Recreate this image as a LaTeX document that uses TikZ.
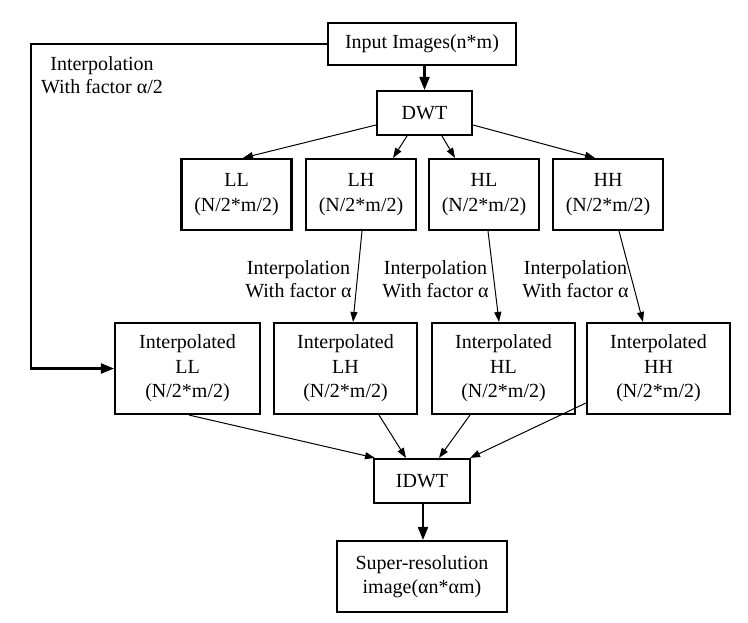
\documentclass[tikz,border=0pt]{standalone}
\usepackage{fontspec}
\setmainfont{Liberation Serif}
\usetikzlibrary{arrows.meta}
\begin{document}
\begin{tikzpicture}[x=1pt,y=-1pt,
  box/.style={draw, line width=2.1pt, inner sep=0pt, align=center,
    font=\fontsize{20}{24.5}\selectfont},
  lbl/.style={inner sep=0pt, align=center, font=\fontsize{20}{23}\selectfont},
  thin/.style={line width=1pt, -{Triangle[length=10pt,width=7pt]}},
  thk/.style={line width=2.1pt, -{Triangle[length=13pt,width=10pt]}}]
\useasboundingbox (0,0) rectangle (748,623);
\node[box, minimum width=188pt, minimum height=42pt] (in) at (422,44) {Input Images(n*m)};
\node[box, minimum width=95pt, minimum height=44pt] (dwt) at (424.5,113) {DWT};
\node[box, minimum width=110pt, minimum height=71pt] (LL) at (236.5,194.5) {LL\\(N/2*m/2)};
\node[box, minimum width=110pt, minimum height=71pt] (LH) at (361,194.5) {LH\\(N/2*m/2)};
\node[box, minimum width=110pt, minimum height=71pt] (HL) at (484,194.5) {HL\\(N/2*m/2)};
\node[box, minimum width=110pt, minimum height=71pt] (HH) at (608,194.5) {HH\\(N/2*m/2)};
\node[box, minimum width=145pt, minimum height=91pt] (iLL) at (187.5,368.5) {Interpolated\\LL\\(N/2*m/2)};
\node[box, minimum width=143pt, minimum height=91pt] (iLH) at (345.5,368.5) {Interpolated\\LH\\(N/2*m/2)};
\node[box, minimum width=143pt, minimum height=91pt] (iHL) at (503.5,368.5) {Interpolated\\HL\\(N/2*m/2)};
\node[box, minimum width=143pt, minimum height=91pt] (iHH) at (658.5,368.5) {Interpolated\\HH\\(N/2*m/2)};
\node[box, minimum width=96pt, minimum height=44pt] (idwt) at (422,481) {IDWT};
\node[box, minimum width=170pt, minimum height=71pt] (sr) at (422,576.5) {Super-resolution\\image(αn*αm)};
\node[lbl] (l0) at (102,75) {Interpolation\\With factor α/2};
\node[lbl] (l1) at (298.5,279) {Interpolation\\With factor α};
\node[lbl] (l2) at (435.5,279) {Interpolation\\With factor α};
\node[lbl] (l3) at (575.5,279) {Interpolation\\With factor α};
\coordinate (c1) at (31,44);
\coordinate (c2) at (31,368.5);
\draw[thk] (dwt.north |- in.south) -- (dwt.north);
\draw[thk] (in.west) -- (c1) -- (c2) -- (iLL.west);
\draw[thin] ([yshift=-12pt]dwt.west) -- ([xshift=6.5pt]LL.north);
\draw[thin] ([xshift=-17.5pt]dwt.south) -- ([xshift=32pt]LH.north);
\draw[thin] ([xshift=17.5pt]dwt.south) -- ([xshift=-29pt]HL.north);
\draw[thin] ([yshift=-12pt]dwt.east) -- ([xshift=-13pt]HH.north);
\draw[thin] ([xshift=1pt]LH.south) -- ([xshift=7.5pt]iLH.north);
\draw[thin] ([xshift=4pt]HL.south) -- ([xshift=-4.5pt]iHL.north);
\draw[thin] ([xshift=11pt]HH.south) -- ([xshift=-15.5pt]iHH.north);
\draw[thin] ([xshift=1.5pt]iLL.south) -- ([xshift=-47pt]idwt.north);
\draw[thin] ([xshift=33.5pt]iLH.south) -- ([xshift=-16pt]idwt.north);
\draw[thin] ([xshift=-33.5pt]iHL.south) -- ([xshift=17pt]idwt.north);
\draw[thin] ([yshift=-34.5pt]iHH.west) -- ([xshift=-1pt]idwt.north east);
\draw[thk] ([xshift=1pt]idwt.south) -- ([xshift=1pt]sr.north);
\end{tikzpicture}
\end{document}
